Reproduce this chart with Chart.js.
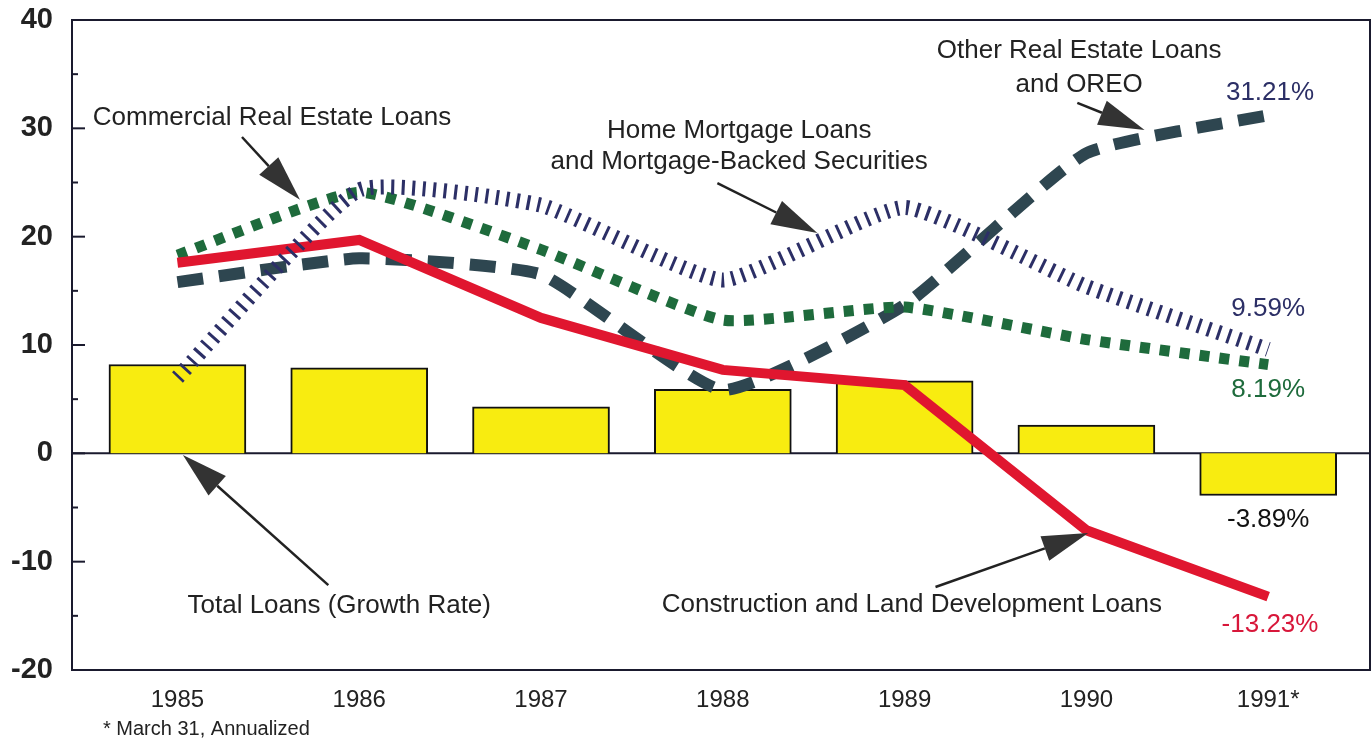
<!DOCTYPE html>
<html lang="en">
<head>
  <meta charset="UTF-8">
  <title>Loan Growth Rates 1985-1991</title>
  <script src="https://cdn.jsdelivr.net/npm/chart.js"></script>
  <style>
    body { margin:0; background:#fff; }
    .wrap { width:1372px; height:742px; position:relative; }
  </style>
</head>
<body>
<div class="wrap"><canvas id="loanChart"></canvas></div>

<script>
  // Values (percent growth)
  const years = [1985, 1986, 1987, 1988, 1989, 1990, 1991];
  const yearLabels = ["1985", "1986", "1987", "1988", "1989", "1990", "1991*"];
  const totalLoans = [8.2, 7.9, 4.3, 5.9, 6.7, 2.6, -3.89];
  const construction = [17.6, 19.7, 12.5, 7.7, 6.3, -7.1, -13.23];
  const commercial = [18.3, 24.1, 18.8, 12.3, 13.5, 10.5, 8.19];
  const homeMortgage = [7.0, 24.3, 22.9, 16.0, 22.7, 15.4, 9.59];
  const otherRealEstate = [15.8, 18.0, 16.5, 5.85, 13.7, 27.7, 31.21];
  const yTicks = [-20, -10, 0, 10, 20, 30, 40];

  const FONT = "'Liberation Sans', Arial, Helvetica, sans-serif";
  const pts = arr => years.map((x, i) => ({ x: x, y: arr[i] }));

  // Labels and arrows, placed in data units (year, percent)
  const labels = [
    { text: "Commercial Real Estate Loans", x: 1985.52, y: 31.0 },
    { text: "Home Mortgage Loans", x: 1988.09, y: 29.8 },
    { text: "and Mortgage-Backed Securities", x: 1988.09, y: 26.9 },
    { text: "Other Real Estate Loans", x: 1989.96, y: 37.2 },
    { text: "and OREO", x: 1989.96, y: 34.0 },
    { text: "Total Loans (Growth Rate)", x: 1985.89, y: -14.1 },
    { text: "Construction and Land Development Loans", x: 1989.04, y: -14.0 },
    { text: "31.21%", x: 1991.01, y: 33.3, color: "#2c2f66" },
    { text: "9.59%", x: 1991.0, y: 13.3, color: "#2c2f66" },
    { text: "8.19%", x: 1991.0, y: 5.85, color: "#1e6b3c" },
    { text: "-3.89%", x: 1991.0, y: -6.15, color: "#111" },
    { text: "-13.23%", x: 1991.01, y: -15.85, color: "#d8173a" }
  ];
  const arrows = [
    { from: [1985.355, 29.2], to: [1985.674, 23.4] },
    { from: [1987.97, 24.95], to: [1988.52, 20.33] },
    { from: [1989.95, 32.35], to: [1990.32, 29.85] },
    { from: [1985.83, -12.16], to: [1985.03, -0.16] },
    { from: [1989.17, -12.34], to: [1990.01, -7.36] }
  ];

  function drawArrow(ctx, x1, y1, x2, y2) {
    const ang = Math.atan2(y2 - y1, x2 - x1);
    const len = 46, half = 13;
    const bx = x2 - Math.cos(ang) * len, by = y2 - Math.sin(ang) * len;
    ctx.strokeStyle = "#222"; ctx.lineWidth = 2.5;
    ctx.beginPath(); ctx.moveTo(x1, y1); ctx.lineTo(bx, by); ctx.stroke();
    ctx.fillStyle = "#333";
    ctx.beginPath();
    ctx.moveTo(x2, y2);
    ctx.lineTo(bx - Math.sin(ang) * half, by + Math.cos(ang) * half);
    ctx.lineTo(bx + Math.sin(ang) * half, by - Math.cos(ang) * half);
    ctx.closePath(); ctx.fill();
  }

  const frame = {
    id: "frame",
    beforeDatasetsDraw(chart) {
      const { ctx, chartArea: a, scales: { y } } = chart;
      ctx.save();
      ctx.strokeStyle = "#1a1a2e"; ctx.lineWidth = 2;
      ctx.strokeRect(a.left, a.top, a.right - a.left, a.bottom - a.top);
      const z = y.getPixelForValue(0);
      ctx.beginPath(); ctx.moveTo(a.left, z); ctx.lineTo(a.right, z); ctx.stroke();
      // inward ticks: long at tens, short at fives
      for (let v = -15; v < 40; v += 5) {
        const py = y.getPixelForValue(v);
        ctx.beginPath(); ctx.moveTo(a.left, py);
        ctx.lineTo(a.left + (v % 10 === 0 ? 13 : 6), py); ctx.stroke();
      }
      ctx.restore();
    },
    afterDatasetsDraw(chart) {
      const { ctx, scales: { x, y } } = chart;
      ctx.save();
      arrows.forEach(r => drawArrow(ctx,
        x.getPixelForValue(r.from[0]), y.getPixelForValue(r.from[1]),
        x.getPixelForValue(r.to[0]), y.getPixelForValue(r.to[1])));
      ctx.font = "26px " + FONT;
      ctx.textAlign = "center"; ctx.textBaseline = "middle";
      labels.forEach(l => {
        ctx.fillStyle = l.color || "#222";
        ctx.fillText(l.text, x.getPixelForValue(l.x), y.getPixelForValue(l.y));
      });
      ctx.font = "20px " + FONT;
      ctx.textAlign = "left"; ctx.fillStyle = "#222";
      ctx.fillText("* March 31, Annualized", 103, 729);
      ctx.restore();
    }
  };

  new Chart(document.getElementById("loanChart"), {
    type: "bar",
    data: {
      datasets: [
        { type: "line", label: "Home Mortgage Loans and Mortgage-Backed Securities", data: pts(homeMortgage),
          borderColor: "#2c2f66", borderWidth: 15, borderDash: [3, 7.5], borderCapStyle: "butt",
          tension: 0.15, pointRadius: 0, order: 1 },
        { type: "line", label: "Construction and Land Development Loans", data: pts(construction),
          borderColor: "#e0162f", borderWidth: 10, tension: 0, pointRadius: 0, order: 2 },
        { type: "line", label: "Commercial Real Estate Loans", data: pts(commercial),
          borderColor: "#1e6b3c", borderWidth: 11, borderDash: [10, 10], borderCapStyle: "butt",
          tension: 0.15, pointRadius: 0, order: 3 },
        { type: "line", label: "Other Real Estate Loans and OREO", data: pts(otherRealEstate),
          borderColor: "#2e4650", borderWidth: 12, borderDash: [26, 16], borderCapStyle: "butt",
          tension: 0.15, pointRadius: 0, order: 4 },
        { type: "bar", label: "Total Loans (Growth Rate)", data: pts(totalLoans),
          backgroundColor: "#f8ec10", borderColor: "#111", borderWidth: 2,
          barThickness: 137, order: 10 }
      ]
    },
    options: {
      responsive: true, maintainAspectRatio: false, animation: false,
      layout: { padding: { top: 20, right: 2, left: 0, bottom: 0 } },
      plugins: { legend: { display: false }, tooltip: { enabled: false } },
      scales: {
        x: {
          type: "linear", min: 1984.42, max: 1991.56, offset: false,
          grid: { display: false, drawTicks: false }, border: { display: false },
          afterBuildTicks: s => { s.ticks = years.map(v => ({ value: v })); },
          afterFit: s => { s.height = 72; s.paddingLeft = 0; s.paddingRight = 0; },
          ticks: { padding: 16, color: "#222", font: { family: FONT, size: 24 },
                   callback: v => yearLabels[years.indexOf(v)] }
        },
        y: {
          min: -20, max: 40,
          grid: { display: false, drawTicks: false }, border: { display: false },
          afterBuildTicks: s => { s.ticks = yTicks.map(v => ({ value: v })); },
          afterFit: s => { s.width = 72; s.paddingTop = 0; s.paddingBottom = 0; },
          ticks: { padding: 19, color: "#222", font: { family: FONT, size: 29, weight: "bold" } }
        }
      }
    },
    plugins: [frame]
  });
</script>
</body>
</html>
